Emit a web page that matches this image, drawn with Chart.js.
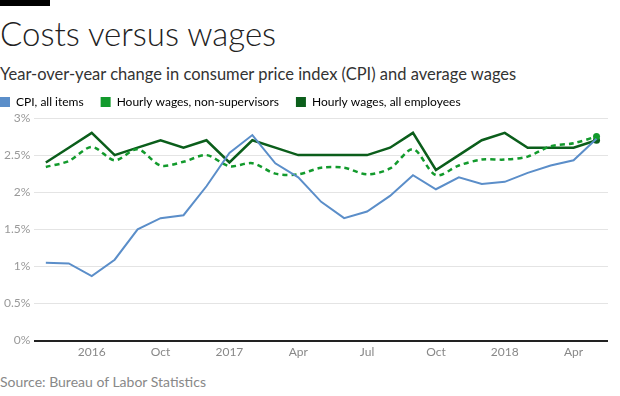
<!DOCTYPE html>
<html lang="en">
<head>
    <meta charset="UTF-8">
    <title>Costs versus wages</title>
    <script src="https://cdn.jsdelivr.net/npm/chart.js"></script>
    <style>
        body {
            margin: 0;
            width: 620px;
            height: 396px;
            background: #fff;
            font-family: Lato, Arial, sans-serif;
            position: relative;
            overflow: hidden;
        }
        .bar {
            position: absolute;
            left: 0;
            top: 0;
            width: 50px;
            height: 6px;
            background: #000;
        }
        h1 {
            position: absolute;
            left: 0;
            top: 13px;
            margin: 0;
            font-size: 33px;
            font-weight: 300;
            color: #222;
        }
        h2 {
            position: absolute;
            left: 0;
            top: 64px;
            margin: 0;
            font-size: 16.5px;
            font-weight: 400;
            color: #333;
        }
        .chart-container {
            position: absolute;
            left: 0;
            top: 79px;
            width: 620px;
            height: 284px;
        }
        .source {
            position: absolute;
            left: 0;
            top: 373px;
            font-size: 14px;
            color: #888;
        }
    </style>
</head>
<body>
    <div class="bar"></div>
    <h1>Costs versus wages</h1>
    <h2>Year-over-year change in consumer price index (CPI) and average wages</h2>
    <div class="chart-container">
        <canvas id="wageChart"></canvas>
    </div>
    <div class="source">Source: Bureau of Labor Statistics</div>

    <script>
        // Data: monthly, May 2016 - May 2018
        const months = ['May 2016', 'Jun 2016', 'Jul 2016', 'Aug 2016', 'Sep 2016', 'Oct 2016', 'Nov 2016', 'Dec 2016',
            'Jan 2017', 'Feb 2017', 'Mar 2017', 'Apr 2017', 'May 2017', 'Jun 2017', 'Jul 2017', 'Aug 2017', 'Sep 2017',
            'Oct 2017', 'Nov 2017', 'Dec 2017', 'Jan 2018', 'Feb 2018', 'Mar 2018', 'Apr 2018', 'May 2018'];
        const tickLabels = ['', '', '2016', '', '', 'Oct', '', '', '2017', '', '', 'Apr', '', '', 'Jul', '', '',
            'Oct', '', '', '2018', '', '', 'Apr', ''];

        const cpi = [1.05, 1.04, 0.87, 1.09, 1.50, 1.65, 1.69, 2.08, 2.53, 2.77, 2.39, 2.20, 1.87, 1.65, 1.74,
            1.95, 2.23, 2.04, 2.20, 2.11, 2.14, 2.26, 2.36, 2.43, 2.72];
        const nonSupervisors = [2.34, 2.42, 2.61, 2.43, 2.58, 2.36, 2.41, 2.50, 2.35, 2.39, 2.25, 2.24, 2.33, 2.33,
            2.24, 2.32, 2.58, 2.23, 2.36, 2.44, 2.44, 2.48, 2.62, 2.66, 2.75];
        const allEmployees = [2.4, 2.6, 2.8, 2.5, 2.6, 2.7, 2.6, 2.7, 2.4, 2.7, 2.6, 2.5, 2.5, 2.5, 2.5, 2.6, 2.8,
            2.3, 2.5, 2.7, 2.8, 2.6, 2.6, 2.6, 2.7];

        const last = months.length - 1;
        const endDot = months.map((m, i) => i === last ? 3.5 : 0);
        const legendPad = 17;

        // chart.js starts the legend one padding in from the left; pull it back to the edge
        const legendShift = {
            id: 'legendShift',
            afterLayout(chart) {
                chart.legend.left -= legendPad;
                chart.legend.right -= legendPad;
            }
        };

        const ctx = document.getElementById('wageChart').getContext('2d');
        new Chart(ctx, {
            type: 'line',
            data: {
                labels: months,
                datasets: [
                    {
                        label: 'CPI, all items',
                        data: cpi,
                        borderColor: '#5b8ec9',
                        backgroundColor: '#5b8ec9',
                        borderWidth: 2,
                        pointRadius: 0,
                        tension: 0
                    },
                    {
                        label: 'Hourly wages, non-supervisors',
                        data: nonSupervisors,
                        borderColor: '#129a2c',
                        backgroundColor: '#129a2c',
                        borderWidth: 2.5,
                        borderDash: [5, 4],
                        pointRadius: endDot,
                        pointBorderWidth: 0,
                        tension: 0.3
                    },
                    {
                        label: 'Hourly wages, all employees',
                        data: allEmployees,
                        borderColor: '#0b5e1b',
                        backgroundColor: '#0b5e1b',
                        borderWidth: 2.5,
                        pointRadius: endDot,
                        pointBorderWidth: 0,
                        tension: 0
                    }
                ]
            },
            options: {
                responsive: true,
                maintainAspectRatio: false,
                animation: false,
                layout: { padding: { left: 0, right: 12, top: 0, bottom: 0 } },
                scales: {
                    y: {
                        min: 0,
                        max: 3,
                        ticks: {
                            stepSize: 0.5,
                            color: '#999',
                            font: { family: 'Lato', size: 12 },
                            padding: 4,
                            callback: v => v + '%'
                        },
                        border: { display: false },
                        grid: {
                            drawTicks: false,
                            color: c => c.tick.value === 0 ? '#222' : '#e4e4e4',
                            lineWidth: c => c.tick.value === 0 ? 2 : 1
                        }
                    },
                    x: {
                        offset: true,
                        border: { display: false },
                        grid: { display: false, drawTicks: false },
                        ticks: {
                            autoSkip: false,
                            maxRotation: 0,
                            color: '#888',
                            font: { family: 'Lato', size: 12 },
                            padding: 4,
                            callback: (v, i) => tickLabels[i]
                        }
                    }
                },
                plugins: {
                    legend: {
                        align: 'start',
                        labels: {
                            boxWidth: 10,
                            boxHeight: 10,
                            color: '#333',
                            font: { family: 'Lato', size: 12 },
                            padding: legendPad,
                            generateLabels: chart => chart.data.datasets.map((d, i) => ({
                                text: d.label,
                                fillStyle: d.borderColor,
                                strokeStyle: d.borderColor,
                                lineWidth: 0,
                                datasetIndex: i
                            }))
                        }
                    },
                    tooltip: { enabled: false }
                }
            },
            plugins: [legendShift]
        });
    </script>
</body>
</html>
